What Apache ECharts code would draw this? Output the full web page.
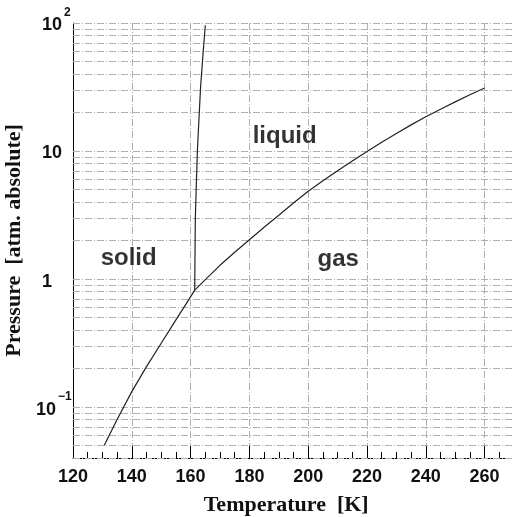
<!DOCTYPE html>
<html>
<head>
<meta charset="utf-8">
<script src="https://cdn.jsdelivr.net/npm/echarts@6/dist/echarts.min.js"></script>
<style>html,body{margin:0;padding:0;background:#fff;}#c{width:512px;height:517px;}</style>
</head>
<body>
<div id="c"></div>
<script>
// ---- data ----
const sublimationT = [130.6, 135, 140, 145, 150, 155, 158, 161.4];
const sublimationP = [0.05, 0.080, 0.132, 0.207, 0.315, 0.48, 0.615, 0.82];

const vaporT = [161.4, 165, 170, 175, 180, 185, 190, 195, 200, 205, 210, 215, 220, 225, 230, 235, 240, 245, 250, 255, 260];
const vaporP = [0.82, 0.99, 1.28, 1.62, 2.03, 2.54, 3.15, 3.93, 4.85, 5.85, 7.0, 8.36, 9.9, 11.7, 13.7, 16.0, 18.5, 21.2, 24.2, 27.5, 31.1];

const meltingT = [161.4, 161.6, 161.9, 162.3, 162.8, 163.4, 164.2, 165];
const meltingP = [0.82, 2.9, 5.0, 10, 17, 31.8, 56, 96];

const regionNames = ['solid', 'liquid', 'gas'];
const regionT = [129.4, 181.1, 203.2];
const regionP = [1.46, 13.1, 1.42];

const yLabelExponents = [-1, 0, 1, 2];
const yLabelBase = ['10', '1', '10', '10'];
const yLabelSup = ['\u22121', '', '', '2'];

const yGridMultipliers = [1, 2, 3, 4, 5, 6, 7, 8, 9];
const yGridDecades = [0.01, 0.1, 1, 10, 100];

// ---- build ----
const pairs = (xs, ys) => xs.map((x, i) => [x, ys[i]]);
const yGridValues = [];
yGridDecades.forEach(d => yGridMultipliers.forEach(m => {
  const v = +(d * m).toPrecision(6);
  if (v >= 0.04 - 1e-9 && v <= 100 + 1e-9) yGridValues.push(v);
}));

const gridStyle = { color: '#b0b0b0', width: 1, type: [7, 2, 1, 2] };
const curveStyle = { color: '#222', width: 1.2 };

const chart = echarts.init(document.getElementById('c'), null, { renderer: 'canvas' });
chart.setOption({
  animation: false,
  backgroundColor: '#fff',
  grid: { left: 73, top: 23, bottom: 59, right: -31.4, containLabel: false, outerBoundsMode: 'none' },
  xAxis: {
    type: 'value', min: 120, max: 280, interval: 20,
    name: 'Temperature  [K]', nameLocation: 'middle', nameGap: 36,
    nameTextStyle: { fontFamily: 'Liberation Serif', fontWeight: 'bold', fontSize: 22, color: '#111', padding: [0, 44, 0, 0] },
    axisLine: { show: true, lineStyle: { color: '#000', width: 1 } },
    axisTick: { show: true, inside: true, length: 12, lineStyle: { color: '#000' } },
    minorTick: { show: true, splitNumber: 4, length: 6, lineStyle: { color: '#000' } },
    axisLabel: { fontFamily: 'Liberation Sans', fontWeight: 'bold', fontSize: 18, color: '#111', margin: 10,
      formatter: v => (v >= 120 && v <= 260) ? String(v) : '' },
    splitLine: { show: true, lineStyle: gridStyle }
  },
  yAxis: {
    type: 'log', logBase: 10, min: 0.04, max: 100,
    name: 'Pressure  [atm. absolute]', nameLocation: 'middle', nameGap: 40,
    nameTextStyle: { fontFamily: 'Liberation Serif', fontWeight: 'bold', fontSize: 22, color: '#111' },
    axisLine: { show: true, lineStyle: { color: '#000', width: 1 } },
    axisTick: { show: false },
    splitLine: { show: false },
    axisLabel: {
      align: 'left', margin: 37, padding: [5, 0, 0, 0],
      formatter: v => {
        const e = Math.log10(v);
        const r = Math.round(e);
        if (Math.abs(e - r) > 1e-6) return '';
        const i = yLabelExponents.indexOf(r);
        if (i < 0) return '';
        const pad = r === -1 ? 'm0' : 'm6';
        return '{' + pad + '|' + yLabelBase[i] + '}' + (yLabelSup[i] ? '{sup|' + yLabelSup[i] + '}' : '');
      },
      rich: {
        m0: { fontFamily: 'Liberation Sans', fontWeight: 'bold', fontSize: 18, lineHeight: 18, color: '#111', verticalAlign: 'middle' },
        m6: { fontFamily: 'Liberation Sans', fontWeight: 'bold', fontSize: 18, lineHeight: 18, color: '#111', verticalAlign: 'middle', padding: [0, 0, 0, 6] },
        sup: { fontFamily: 'Liberation Sans', fontWeight: 'bold', fontSize: 12, color: '#111', verticalAlign: 'top', padding: [0, 0, 26, 2] }
      }
    }
  },
  series: [
    {
      type: 'line', name: 'solid-gas', data: pairs(sublimationT, sublimationP),
      showSymbol: false, symbol: 'none', z: 3,
      lineStyle: curveStyle
    },
    {
      type: 'line', name: 'liquid-gas', data: pairs(vaporT, vaporP),
      showSymbol: false, symbol: 'none', z: 3,
      lineStyle: curveStyle,
      markLine: {
        silent: true, symbol: 'none', z: 1, animation: false,
        label: { show: false },
        lineStyle: gridStyle,
        data: yGridValues.map(v => ({ yAxis: v }))
      }
    },
    {
      type: 'line', name: 'solid-liquid', data: pairs(meltingT, meltingP),
      showSymbol: false, symbol: 'none', z: 3,
      lineStyle: curveStyle
    },
    {
      type: 'scatter', name: 'regions', symbolSize: 0, z: 4,
      data: regionT.map((t, i) => [t, regionP[i], regionNames[i]]),
      label: {
        show: true, position: 'right', distance: 0, align: 'left', verticalAlign: 'middle',
        formatter: p => p.data[2],
        fontFamily: 'Liberation Sans', fontWeight: 'bold', fontSize: 24, color: '#000'
      }
    }
  ]
});
</script>
</body>
</html>
